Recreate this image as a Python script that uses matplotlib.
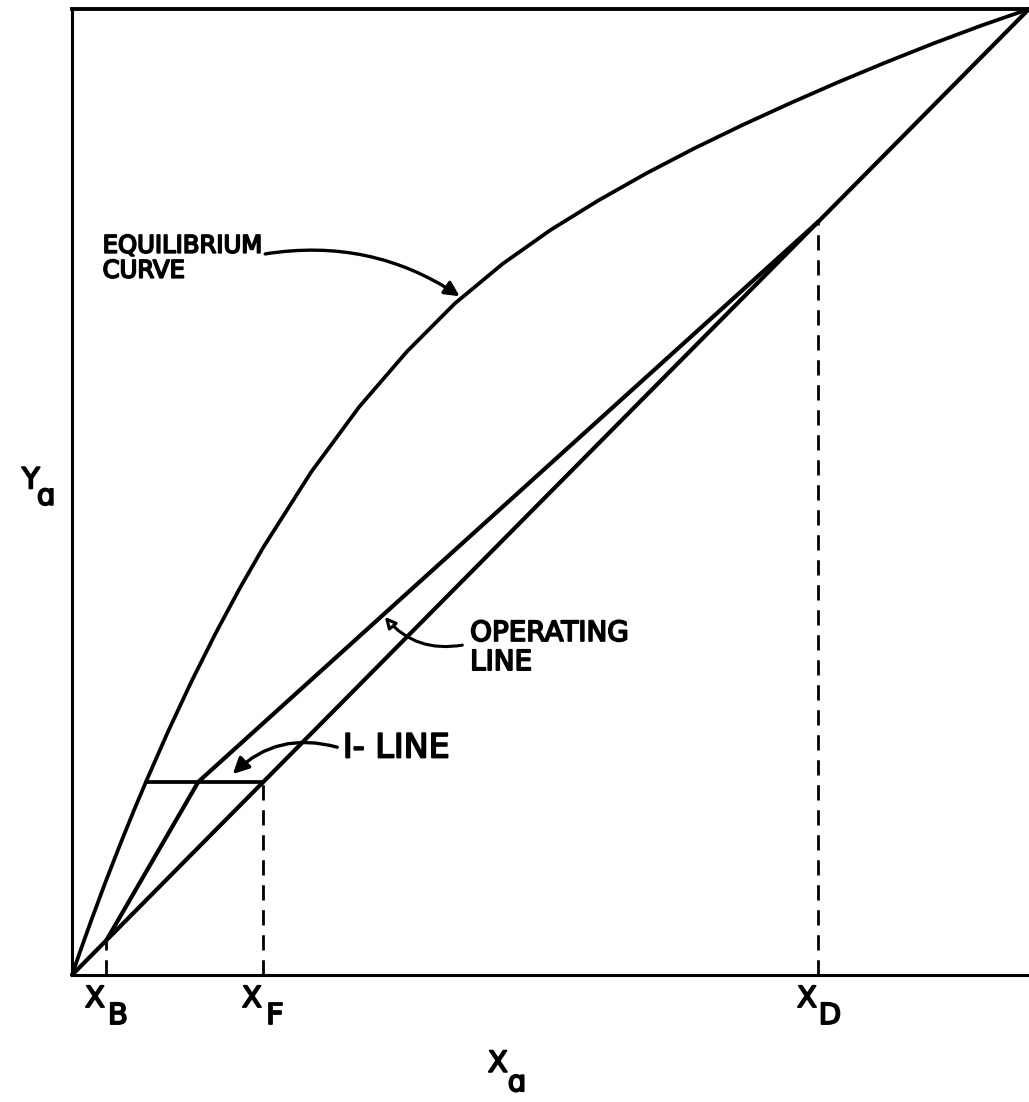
import matplotlib
matplotlib.use("Agg")
import matplotlib.pyplot as plt
import matplotlib.patheffects as pe

# McCabe-Thiele style diagram (mole fractions)
eq_x = [0.0, 0.01, 0.02, 0.035, 0.05, 0.065, 0.078, 0.1, 0.125, 0.15, 0.175, 0.2,
        0.25, 0.3, 0.35, 0.4, 0.45, 0.5, 0.55, 0.6, 0.65, 0.7, 0.75, 0.8, 0.85,
        0.9, 0.95, 1.0]
eq_y = [0.0, 0.0286, 0.0562, 0.0962, 0.1344, 0.1711, 0.2016, 0.2512, 0.3042, 0.3536,
        0.3998, 0.4429, 0.5208, 0.588, 0.6454, 0.6951, 0.7362, 0.7712, 0.8018, 0.8298,
        0.8556, 0.8796, 0.9023, 0.924, 0.9446, 0.9643, 0.9828, 1.0]

x_B = 0.036
x_F = 0.2
x_D = 0.78

# operating lines (stripping + rectifying), meeting on the q-line
op_x = [x_B, 0.132, x_D]
op_y = [x_B, 0.2, x_D]

# q-line (horizontal, saturated vapour feed)
q_x = [0.077, x_F]
q_y = [x_F, x_F]

fig = plt.figure(figsize=(10.29, 11.02), dpi=100)
ax = fig.add_axes([72 / 1029, 127 / 1102, 957 / 1029, 966 / 1102])
ax.set_xlim(0, 1)
ax.set_ylim(0, 1)
ax.set_xticks([])
ax.set_yticks([])
ax.spines["right"].set_visible(False)
ax.spines["left"].set_linewidth(2.2)
ax.spines["bottom"].set_linewidth(2.2)
ax.spines["top"].set_linewidth(2.8)

ax.plot([0, 1], [0, 1], color="black", lw=3.0, clip_on=False, solid_capstyle="round")
ax.plot(eq_x, eq_y, color="black", lw=2.7, clip_on=False,
        solid_capstyle="round", solid_joinstyle="round")
ax.plot(op_x, op_y, color="black", lw=3.0, clip_on=False,
        solid_capstyle="round", solid_joinstyle="round")
ax.plot(q_x, q_y, color="black", lw=2.7, solid_capstyle="round")

for xv in [x_B, x_F, x_D]:
    ax.plot([xv, xv], [0, xv], color="black", lw=2.0, dashes=(5.5, 3.5))

fx = [pe.withStroke(linewidth=1.3, foreground="black")]
base = dict(color="black", family="DejaVu Sans", path_effects=fx)

ax.text(0.032, 0.742, "EQUILIBRIUM\nCURVE", ha="left", va="center",
        linespacing=1.05, fontsize=17.5, **base)
ax.annotate("", xy=(0.4075, 0.701), xytext=(0.199, 0.746),
            arrowprops=dict(arrowstyle="-|>", connectionstyle="arc3,rad=-0.2",
                            lw=2.4, color="black", mutation_scale=22))

ax.text(0.416, 0.339, "OPERATING\nLINE", ha="left", va="center",
        linespacing=1.05, fontsize=20, **base)
ax.annotate("", xy=(0.325, 0.373), xytext=(0.4107, 0.342),
            arrowprops=dict(arrowstyle="-|>", connectionstyle="arc3,rad=-0.3",
                            lw=2.2, ec="black", fc="white", mutation_scale=16))

ax.text(0.283, 0.235, "I- LINE", ha="left", va="center", fontsize=24, **base)
ax.annotate("", xy=(0.166, 0.206), xytext=(0.28, 0.235),
            arrowprops=dict(arrowstyle="-|>", connectionstyle="arc3,rad=0.3",
                            lw=2.4, color="black", mutation_scale=24))

# axis labels with large subscripts
lk = dict(fontsize=21, ha="center", va="center", clip_on=False, **base)
ax.text(-0.043, 0.512, "Y", **lk)
ax.text(-0.027, 0.495, "ɑ", **lk)
ax.text(0.445, -0.092, "X", **lk)
ax.text(0.465, -0.112, "ɑ", **lk)

for xv, sub in [(x_B, "B"), (x_F, "F"), (x_D, "D")]:
    ax.text(xv - 0.012, -0.0249, "X", **lk)
    ax.text(xv + 0.012, -0.0425, sub, **lk)

fig.savefig("out.png", dpi=100)
